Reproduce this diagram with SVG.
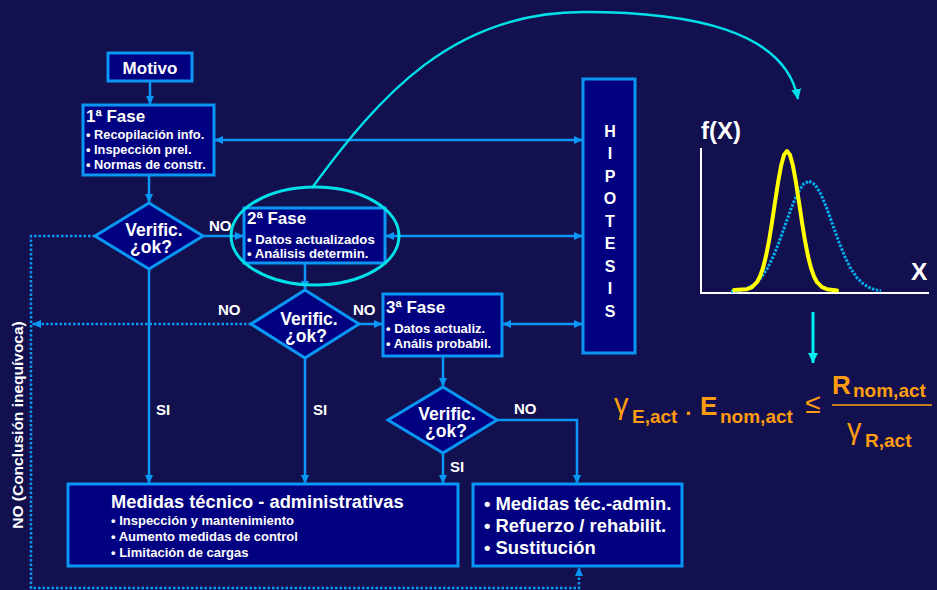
<svg xmlns="http://www.w3.org/2000/svg" width="937" height="590" viewBox="0 0 937 590">
<style>
.box{fill:#000080;stroke:#0a96f5;stroke-width:3}
.t{font-family:"Liberation Sans",Arial,sans-serif;font-weight:bold;fill:#ffffff}
.c{fill:none;stroke:#0a96f5;stroke-width:2.5}
.d{fill:none;stroke:#0a96f5;stroke-width:2.5;stroke-dasharray:2.5 2}
.cy{fill:none;stroke:#00e0e8;stroke-width:2.5}
.f{font-family:"Liberation Sans",Arial,sans-serif;font-weight:bold;fill:#ff9c10}
.g{font-family:"Liberation Sans",Arial,sans-serif;fill:#ff9c10}
</style>
<defs>
<marker id="ab" markerUnits="userSpaceOnUse" markerWidth="9" markerHeight="8" refX="9" refY="4" orient="auto-start-reverse"><path d="M0,0 L9,4 L0,8 z" fill="#0a96f5"/></marker>
<marker id="ac" markerUnits="userSpaceOnUse" markerWidth="11" markerHeight="10" refX="10" refY="5" orient="auto"><path d="M0,0 L11,5 L0,10 z" fill="#00e0e8"/></marker>
<marker id="ac2" markerUnits="userSpaceOnUse" markerWidth="10" markerHeight="10" refX="10" refY="5" orient="auto"><path d="M0,0 L10,5 L0,10 z" fill="#00f0f0"/></marker>
</defs>
<rect width="937" height="590" fill="#12104f"/>

<g id="connectors">
<path class="c" d="M150,81 L150,105" marker-end="url(#ab)"/>
<path class="c" d="M214,140 L583,140" marker-start="url(#ab)" marker-end="url(#ab)"/>
<path class="c" d="M149,175 L149,203" marker-end="url(#ab)"/>
<path class="c" d="M203,236 L244,236" marker-end="url(#ab)"/>
<path class="c" d="M385,236 L583,236" marker-start="url(#ab)" marker-end="url(#ab)"/>
<path class="c" d="M305,263 L305,290" marker-end="url(#ab)"/>
<path class="c" d="M359,324 L383,324" marker-end="url(#ab)"/>
<path class="c" d="M502,324 L583,324" marker-start="url(#ab)" marker-end="url(#ab)"/>
<path class="c" d="M443,356 L443,387" marker-end="url(#ab)"/>
<path class="c" d="M149,269 L149,484" marker-end="url(#ab)"/>
<path class="c" d="M305,358 L305,484" marker-end="url(#ab)"/>
<path class="c" d="M443,453 L443,484" marker-end="url(#ab)"/>
<path class="c" d="M497,420 L577,420 L577,484" marker-end="url(#ab)"/>
<path class="d" d="M95,236 L31,236 L31,588 L579,588 L579,567" marker-end="url(#ab)"/>
<path class="d" d="M251,324 L32,324" marker-end="url(#ab)"/>
<path class="cy" d="M312,188 C380,95 453,12 583,12 C690,12 785,30 798,99" marker-end="url(#ac)"/>
<path d="M813,312 L813,363" fill="none" stroke="#00f0f0" stroke-width="3" marker-end="url(#ac2)"/>
<text class="t" x="209" y="231" font-size="15">NO</text>
<text class="t" x="218" y="315" font-size="15">NO</text>
<text class="t" x="353" y="315" font-size="15">NO</text>
<text class="t" x="514" y="414" font-size="15">NO</text>
<text class="t" x="156" y="415" font-size="15">SI</text>
<text class="t" x="313" y="415" font-size="15">SI</text>
<text class="t" x="450" y="472" font-size="15">SI</text>
<text class="t" transform="translate(22.5,425) rotate(-90)" text-anchor="middle" font-size="15.5">NO (Conclusión inequívoca)</text>
</g>

<g id="motivo">
<rect class="box" x="108" y="53" width="84" height="28"/>
<text class="t" x="150" y="74" font-size="17" text-anchor="middle">Motivo</text>
</g>

<g id="fase1">
<rect class="box" x="83" y="105" width="131" height="70"/>
<text class="t" x="86" y="122" font-size="17">1ª Fase</text>
<text class="t" x="86" y="139" font-size="12.8">• Recopilación info.</text>
<text class="t" x="86" y="154" font-size="12.8">• Inspección prel.</text>
<text class="t" x="86" y="169" font-size="12.8">• Normas de constr.</text>
</g>

<g id="verif1">
<polygon class="box" points="95,236 149,203 203,236 149,269"/>
<text class="t" x="154" y="236" font-size="17.5" text-anchor="middle">Verific.</text>
<text class="t" x="151" y="253" font-size="17.5" text-anchor="middle">¿ok?</text>
</g>

<g id="fase2">
<rect class="box" x="244" y="208" width="141" height="55"/>
<text class="t" x="247" y="224" font-size="17">2ª Fase</text>
<text class="t" x="247" y="244" font-size="13.2">• Datos actualizados</text>
<text class="t" x="247" y="258" font-size="13.2">• Análisis determin.</text>
<ellipse cx="315" cy="236" rx="84" ry="49" fill="none" stroke="#00e0e8" stroke-width="3"/>
</g>

<g id="verif2">
<polygon class="box" points="251,324 305,290 359,324 305,358"/>
<text class="t" x="309" y="325" font-size="17.5" text-anchor="middle">Verific.</text>
<text class="t" x="306" y="342" font-size="17.5" text-anchor="middle">¿ok?</text>
</g>

<g id="fase3">
<rect class="box" x="383" y="294" width="119" height="62"/>
<text class="t" x="386" y="313" font-size="17">3ª Fase</text>
<text class="t" x="386" y="333" font-size="13">• Datos actualiz.</text>
<text class="t" x="386" y="348" font-size="13">• Anális probabil.</text>
</g>

<g id="verif3">
<polygon class="box" points="388,420 443,387 497,420 443,453"/>
<text class="t" x="447" y="420" font-size="17.5" text-anchor="middle">Verific.</text>
<text class="t" x="446" y="437" font-size="17.5" text-anchor="middle">¿ok?</text>
</g>

<g id="hipotesis">
<rect class="box" x="583" y="79" width="52" height="274"/>
<g class="t" font-size="16" text-anchor="middle">
<text x="610" y="136.5">H</text>
<text x="610" y="159">I</text>
<text x="610" y="181.5">P</text>
<text x="610" y="204">O</text>
<text x="610" y="226.5">T</text>
<text x="610" y="249">E</text>
<text x="610" y="271.5">S</text>
<text x="610" y="294">I</text>
<text x="610" y="316.5">S</text>
</g>
</g>

<g id="medidas1">
<rect class="box" x="68" y="484" width="390" height="82"/>
<text class="t" x="111" y="508" font-size="18.3">Medidas técnico - administrativas</text>
<text class="t" x="111" y="525" font-size="13">• Inspección y mantenimiento</text>
<text class="t" x="111" y="541" font-size="13">• Aumento medidas de control</text>
<text class="t" x="111" y="557" font-size="13">• Limitación de cargas</text>
</g>

<g id="medidas2">
<rect class="box" x="473" y="484" width="209" height="82"/>
<text class="t" x="484" y="510" font-size="18.4">• Medidas téc.-admin.</text>
<text class="t" x="484" y="532" font-size="18.4">• Refuerzo / rehabilit.</text>
<text class="t" x="484" y="554" font-size="18.4">• Sustitución</text>
</g>

<g id="grafico">
<path d="M701,148 L701,293 L929,293" fill="none" stroke="#ffffff" stroke-width="2"/>
<text class="t" x="701" y="139" font-size="24">f(X)</text>
<text class="t" x="911" y="280" font-size="24.5">X</text>
<polyline fill="none" stroke="#00b0f0" stroke-width="3" stroke-dasharray="2.5 1.5" points="731,291.5 737,290.9 743,289.7 749,287.5 755,283.7 761,277.8 767,269 773,257 779,242.2 785,225.6 791,208.8 797,194.4 803,184.5 809,181 815,184.5 821,194.4 827,208.8 833,225.6 839,242.2 845,257 851,269 857,277.8 863,283.7 869,287.5 875,289.7 881,291"/>
<polyline fill="none" stroke="#ffff00" stroke-width="4" stroke-linecap="round" stroke-linejoin="round" points="734,290 747,289.2 752,287.2 757,282.2 760,276.5 763,268 766,256.1 769,240.7 772,222.3 775,202.3 778,182.7 781,166.1 784,154.9 787,151 790,154.9 793,166.1 796,182.7 799,202.3 802,222.3 805,240.7 808,256.1 811,268 814,276.5 817,282.2 822,287.2 827,289.2 837,290.5"/>
</g>

<g id="formula">
<text class="g" x="614" y="414" font-size="29">γ</text>
<text class="f" x="632" y="423" font-size="19">E,act</text>
<text class="f" x="689" y="421" font-size="22" text-anchor="middle">·</text>
<text class="f" x="700" y="415" font-size="26">E</text>
<text class="f" x="720" y="423" font-size="19">nom,act</text>
<text class="g" x="813" y="413" font-size="28" text-anchor="middle">≤</text>
<line x1="832" y1="405" x2="932" y2="405" stroke="#ff9c10" stroke-width="1.5"/>
<text class="f" x="832" y="394" font-size="26">R</text>
<text class="f" x="853" y="397" font-size="19">nom,act</text>
<text class="g" x="847" y="439" font-size="29">γ</text>
<text class="f" x="865" y="447" font-size="19">R,act</text>
</g>
</svg>
